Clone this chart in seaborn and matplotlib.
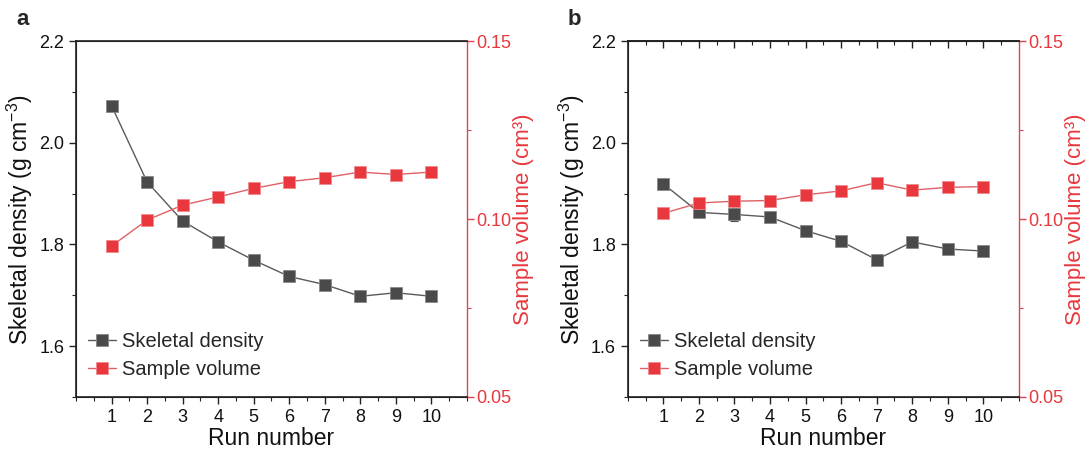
import numpy as np
import pandas as pd
import matplotlib
matplotlib.use("Agg")
import matplotlib.pyplot as plt
from matplotlib.ticker import MultipleLocator, FormatStrFormatter
import seaborn as sns

# Données
runs = [1, 2, 3, 4, 5, 6, 7, 8, 9, 10]

density_a = [2.073, 1.923, 1.846, 1.805, 1.769, 1.737, 1.721, 1.698, 1.705, 1.698]
density_err_a = [0.003, 0.003, 0.003, 0.003, 0.003, 0.004, 0.008, 0.010, 0.004, 0.003]
volume_a = [0.0924, 0.0997, 0.1039, 0.1062, 0.1086, 0.1105, 0.1116, 0.1132, 0.1125, 0.1132]

density_b = [1.919, 1.863, 1.859, 1.854, 1.827, 1.806, 1.770, 1.805, 1.791, 1.787]
density_err_b = [0.002, 0.003, 0.012, 0.003, 0.002, 0.002, 0.003, 0.002, 0.002, 0.002]
volume_b = [0.1016, 0.1045, 0.1050, 0.1052, 0.1068, 0.1079, 0.1102, 0.1081, 0.1089, 0.1091]

panels = ["a", "b"]

sns.set_style("ticks")
plt.rcParams['font.family'] = ['Liberation Sans', 'DejaVu Sans']
plt.rcParams['mathtext.fontset'] = 'custom'
plt.rcParams['mathtext.rm'] = 'Liberation Sans'
plt.rcParams['mathtext.it'] = 'Liberation Sans:italic'
plt.rcParams['mathtext.default'] = 'rm'

GREY = "#4a4a4a"
GREY_LINE = "#5a5a5a"
RED = "#e8383d"
RED_AXIS = "#d9464b"


def draw_panel(fig, rect, label, density, density_err, volume, top_ticks):
    df = pd.DataFrame({"Run": runs, "Density": density, "Volume": volume})
    ax = fig.add_axes(rect)
    ax2 = ax.twinx()

    ax.errorbar(runs, density, yerr=density_err, fmt='none', ecolor=GREY,
                elinewidth=0.8, capsize=3, capthick=0.8, zorder=2)
    sns.lineplot(data=df, x="Run", y="Density", ax=ax, color=GREY_LINE,
                 linewidth=1.0, marker='s', markersize=8, markerfacecolor=GREY,
                 markeredgecolor="#888888", markeredgewidth=0.6, legend=False, zorder=3)
    sns.lineplot(data=df, x="Run", y="Volume", ax=ax2, color="#e06066",
                 linewidth=1.0, marker='s', markersize=8, markerfacecolor=RED,
                 markeredgecolor="#f08a8d", markeredgewidth=0.6, legend=False)

    ax.set_xlim(0, 11)
    ax.set_ylim(1.5, 2.2)
    ax2.set_ylim(0.05, 0.15)

    ax.set_xticks(runs)
    ax.set_xticks(np.arange(0, 11.01, 0.5), minor=True)
    ax.set_yticks([1.6, 1.8, 2.0, 2.2])
    ax.yaxis.set_minor_locator(MultipleLocator(0.1))
    ax2.set_yticks([0.05, 0.10, 0.15])
    ax2.yaxis.set_minor_locator(MultipleLocator(0.025))
    ax.yaxis.set_major_formatter(FormatStrFormatter('%.1f'))
    ax2.yaxis.set_major_formatter(FormatStrFormatter('%.2f'))

    ax.tick_params(axis='both', which='major', labelsize=13, length=5, width=1.0,
                   direction='out', labelcolor="#111111", color="#222222")
    ax.tick_params(axis='both', which='minor', length=3, width=0.8, direction='out',
                   color="#222222")
    ax2.tick_params(axis='y', which='major', labelsize=13, length=5, width=1.0,
                    colors=RED_AXIS, labelcolor=RED, pad=2)
    ax2.tick_params(axis='y', which='minor', length=3, width=0.8, colors=RED_AXIS)

    for side in ["left", "bottom", "top"]:
        ax2.spines[side].set_linewidth(1.2)
        ax2.spines[side].set_color("#222222")
    ax2.spines["right"].set_color(RED_AXIS)
    ax2.spines["right"].set_linewidth(1.0)
    ax.spines["right"].set_visible(False)

    # ticks du haut tournés vers l'intérieur (panneau b)
    if top_ticks:
        sec = ax.secondary_xaxis('top')
        sec.set_xticks(runs)
        sec.set_xticks(np.arange(0, 11.01, 0.5), minor=True)
        sec.tick_params(axis='x', which='major', direction='in', length=5, width=1.0,
                        labeltop=False, color="#222222")
        sec.tick_params(axis='x', which='minor', direction='in', length=3, width=0.8,
                        color="#222222")
        sec.spines['top'].set_linewidth(1.2)

    ax.set_xlabel("Run number", fontsize=16.5, labelpad=1, color="#111111")
    ax.set_ylabel("Skeletal density (g cm$^{-3}$)", fontsize=16.5, labelpad=3,
                  color="#111111")
    ax2.set_ylabel("Sample volume (cm³)", fontsize=16, color=RED, labelpad=1)
    ax2.set_xlabel("")

    handles = [ax.get_lines()[-1], ax2.get_lines()[-1]]
    ax2.legend(handles, ["Skeletal density", "Sample volume"], loc='lower left',
               bbox_to_anchor=(-0.015, 0.0), frameon=False, fontsize=14.5,
               handlelength=1.4, handletextpad=0.3, labelspacing=0.45)

    fig.text(rect[0] - 0.055, 0.935, label, fontsize=16, fontweight='bold',
             ha='left', va='bottom')
    return ax, ax2


fig = plt.figure(figsize=(10.9, 4.54), dpi=100)
draw_panel(fig, [0.0697, 0.1256, 0.3587, 0.784], panels[0], density_a, density_err_a, volume_a, False)
draw_panel(fig, [0.576, 0.1256, 0.3587, 0.784], panels[1], density_b, density_err_b, volume_b, True)
fig.savefig("out.png", dpi=100, facecolor="white")
plt.close(fig)
